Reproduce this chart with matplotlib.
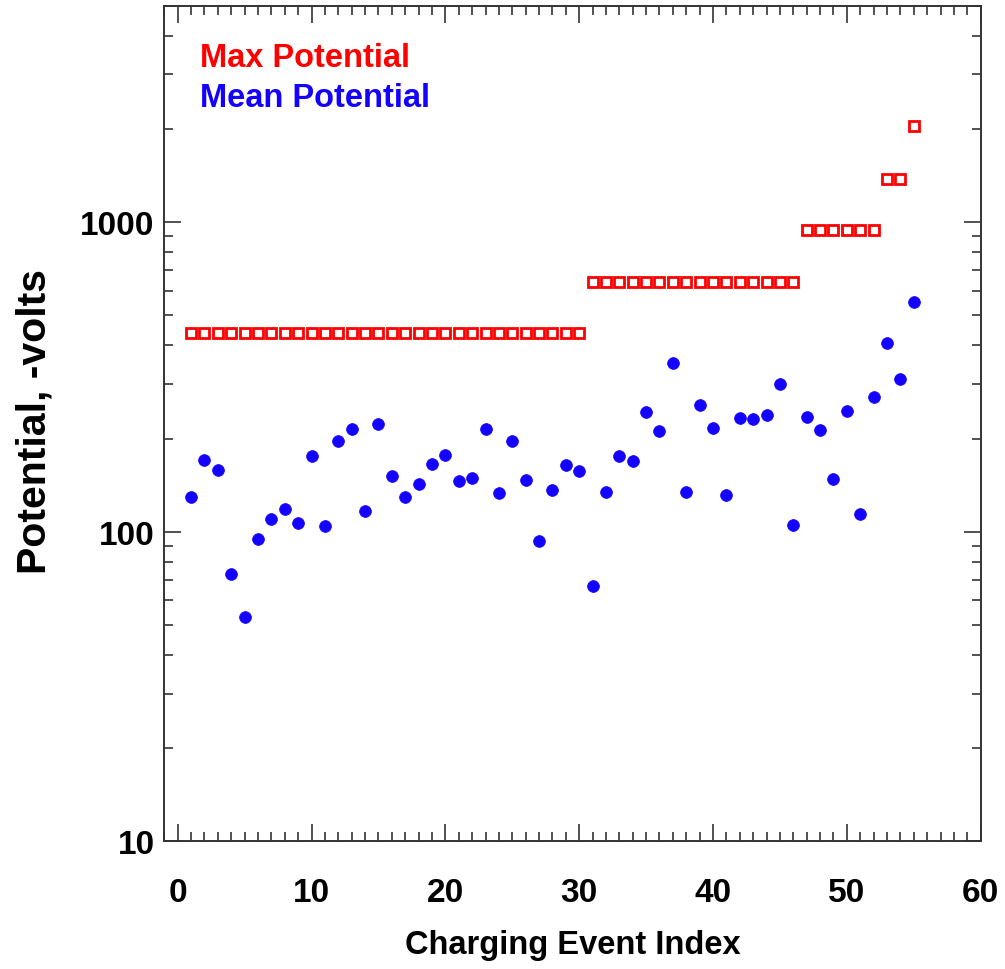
"""Charging events: max and mean potential per event."""
import matplotlib
matplotlib.use("Agg")
import matplotlib.pyplot as plt
from matplotlib import font_manager
from matplotlib.ticker import MultipleLocator, LogLocator, NullFormatter, FormatStrFormatter

OUTPUT_PATH = "out.png"

event_index = list(range(1, 56))

max_potential = [
    440, 440, 440, 440, 440, 440, 440, 440, 440, 440,
    440, 440, 440, 440, 440, 440, 440, 440, 440, 440,
    440, 440, 440, 440, 440, 440, 440, 440, 440, 440,
    640, 640, 640, 640, 640, 640, 640, 640, 640, 640,
    640, 640, 640, 640, 640, 640,
    945, 945, 945, 945, 945, 945,
    1380, 1380, 2040,
]

mean_potential = [
    129, 170, 158, 73, 53, 94.5, 110, 118, 107, 175,
    104, 196, 215, 117, 222, 151, 129, 143, 166, 177,
    146, 149, 214, 133, 196, 147, 93, 136, 164, 157,
    67, 134, 175, 169, 243, 211, 350, 134, 257, 217,
    131, 233, 232, 239, 301, 105, 234, 213, 148, 246,
    114, 272, 408, 312, 552,
]

legend_labels = ["Max Potential", "Mean Potential"]

RED = "#ff0000"
BLUE = "#1400ff"


def pick_font(names):
    for name in names:
        try:
            font_manager.findfont(font_manager.FontProperties(family=name),
                                  fallback_to_default=False)
            return name
        except ValueError:
            continue
    return "DejaVu Sans"


FONT = pick_font(["Liberation Sans", "DejaVu Sans"])

plt.rcParams["font.family"] = [FONT, "DejaVu Sans"]
plt.rcParams["font.weight"] = "bold"
plt.rcParams["axes.labelweight"] = "bold"


def build():
    fig = plt.figure(figsize=(10.05, 9.7), dpi=100)
    ax = fig.add_axes([0.1635, 0.1316, 0.8123, 0.8615])

    ax.plot(event_index, max_potential, linestyle="none", marker="s",
            markersize=7, markerfacecolor="none", markeredgecolor=RED,
            markeredgewidth=2)
    ax.plot(event_index, mean_potential, linestyle="none", marker="o",
            markersize=8.5, markerfacecolor=BLUE, markeredgecolor=BLUE,
            markeredgewidth=0.5)

    ax.set_yscale("log")
    ax.set_xlim(-1, 60)
    ax.set_ylim(10, 5000)

    ax.xaxis.set_major_locator(MultipleLocator(10))
    ax.xaxis.set_minor_locator(MultipleLocator(1))
    ax.yaxis.set_major_locator(LogLocator(base=10))
    ax.yaxis.set_minor_locator(LogLocator(base=10, subs=range(2, 10)))
    ax.yaxis.set_major_formatter(FormatStrFormatter("%d"))
    ax.yaxis.set_minor_formatter(NullFormatter())

    ax.tick_params(which="both", direction="in", top=True, right=True,
                   width=1.1, color="#222222")
    ax.tick_params(which="major", length=12.5, labelsize=24)
    ax.tick_params(axis="x", which="major", pad=26)
    ax.tick_params(axis="y", which="major", pad=7)
    ax.tick_params(which="minor", length=6.5)
    for spine in ax.spines.values():
        spine.set_linewidth(1.4)
        spine.set_color("#333333")

    ax.set_xlabel("Charging Event Index", fontsize=23.5, labelpad=15)
    fig.text(34 / 1005, 1 - 422 / 970, "Potential, -volts", rotation=90,
             ha="center", va="center", fontsize=29.5)

    fig.text(200 / 1005, 1 - 67 / 970, legend_labels[0], color=RED,
             fontsize=23.5, ha="left", va="baseline")
    fig.text(200 / 1005, 1 - 107 / 970, legend_labels[1], color=BLUE,
             fontsize=23.5, ha="left", va="baseline")

    fig.savefig(OUTPUT_PATH, dpi=100)
    plt.close(fig)
    print(f"Saved: {OUTPUT_PATH}")


if __name__ == "__main__":
    build()
